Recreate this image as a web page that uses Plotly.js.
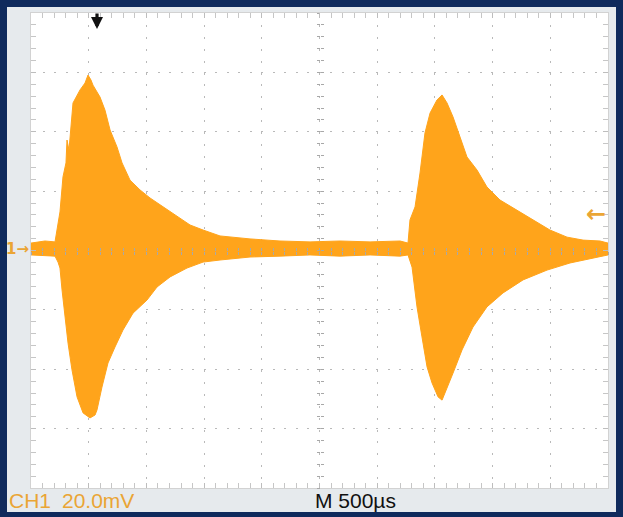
<!DOCTYPE html>
<html>
<head>
<meta charset="utf-8">
<script src="https://cdn.plot.ly/plotly-3.0.1.min.js"></script>
<style>
  html, body { margin: 0; padding: 0; background: #0f2a5c; width: 623px; height: 517px; overflow: hidden; }
  #chart { position: absolute; left: 0; top: 0; width: 623px; height: 517px; }
</style>
</head>
<body>
<div id="chart"></div>
<script>
// Oscilloscope trace envelope (time in µs, voltage in mV)
const upperTime = [0,121,208,234,251,277,303,312,329,364,399,425,468,494,520,537,572,598,641,685,745,789,858,945,1031,1144,1265,1378,1491,1638,1898,2158,2418,2678,2938,3198,3267,3284,3328,3371,3414,3458,3518,3562,3605,3657,3718,3778,3865,3951,4064,4211,4350,4497,4645,4784,4931,5000];
const upperVolt = [2.5,3.2,2.9,9.6,13.0,24.8,29.5,37.2,33.8,49.7,52.4,54.1,56.4,59.1,57.4,55.7,53.4,51.7,47.3,40.6,34.9,29.5,23.7,20.4,17.7,14.7,11.3,8.6,6.9,4.9,3.9,3.2,2.9,3.2,2.9,3.2,2.5,10.3,14.7,26.1,39.6,46.3,50.7,52.4,49.7,45.0,38.2,31.5,27.1,21.4,17.0,13.6,10.3,6.9,4.5,3.5,3.2,2.5];
const lowerTime = [0,208,234,251,269,295,321,355,399,451,511,555,572,615,667,728,797,884,1005,1092,1205,1352,1491,1638,1898,2158,2418,2678,2938,3198,3267,3302,3345,3388,3432,3475,3527,3562,3588,3657,3735,3830,3951,4090,4264,4472,4671,4905,5000];
const lowerVolt = [-1.5,-1.9,-3.9,-5.9,-13.3,-23.4,-31.2,-40.2,-49.3,-54.7,-56.4,-55.4,-53.7,-46.0,-37.9,-32.5,-26.8,-21.1,-16.7,-12.3,-8.9,-5.9,-3.9,-3.2,-2.2,-1.9,-1.5,-1.9,-1.5,-1.9,-1.5,-5.6,-19.0,-29.1,-39.2,-44.6,-49.3,-50.4,-48.0,-41.3,-33.5,-25.8,-19.0,-14.3,-9.9,-6.6,-4.2,-2.2,-1.5];

const timeRange = [0, 5000];   // 10 div x 500 µs
const voltRange = [-80, 80];   // 8 div x 20 mV
const triggerTime = 572;
const triggerLevel = 12.3;
const channelLabel = "CH1";
const scaleLabel = "20.0mV";
const timebaseLabel = "M 500µs";

const traceColor = '#ffa41b';
const labelColor = '#eaa535';
const gridColor = '#b9b9b9';
const textFont = 'Liberation Sans, Arial, sans-serif';

const data = [
  {x: lowerTime, y: lowerVolt, mode: 'lines', line: {color: traceColor, width: 1}, hoverinfo: 'skip', showlegend: false},
  {x: upperTime, y: upperVolt, mode: 'lines', fill: 'tonexty', fillcolor: traceColor, line: {color: traceColor, width: 1}, hoverinfo: 'skip', showlegend: false},
  {x: [null], y: [null], xaxis: 'x2', yaxis: 'y', showlegend: false, hoverinfo: 'skip'},
  {x: [null], y: [null], xaxis: 'x3', yaxis: 'y', showlegend: false, hoverinfo: 'skip'},
  {x: [null], y: [null], xaxis: 'x', yaxis: 'y2', showlegend: false, hoverinfo: 'skip'},
  {x: [null], y: [null], xaxis: 'x', yaxis: 'y3', showlegend: false, hoverinfo: 'skip'}
];

const centerAxis = (range, dtick, ticks, over) => ({
  range: range, overlaying: over, anchor: 'free', position: 0.5,
  showgrid: false, zeroline: false, showline: false, showticklabels: false,
  ticks: ticks, ticklen: 3, tickcolor: '#a8a8a8', tickwidth: 1, dtick: dtick, tick0: 0,
  fixedrange: true
});

// plot area: page x 31..608, y 13..488 ; light panel page x 7..616, y 7..512
const layout = {
  width: 623, height: 517,
  margin: {l: 31, r: 15, t: 13, b: 29, pad: 0},
  paper_bgcolor: '#0f2a5c',
  plot_bgcolor: '#ffffff',
  showlegend: false,
  shapes: [
    {type: 'rect', xref: 'paper', yref: 'paper', x0: -24/577, x1: 585/577, y0: -24/475, y1: 481/475,
     fillcolor: '#e6eaed', line: {width: 0}, layer: 'below'},
    {type: 'rect', xref: 'paper', yref: 'paper', x0: 0, x1: 1, y0: 0, y1: 1,
     fillcolor: '#ffffff', line: {width: 0}, layer: 'below'}
  ],
  xaxis: {
    range: timeRange, dtick: 500, tick0: 0,
    showgrid: true, gridcolor: gridColor, gridwidth: 1, griddash: '2px,9.9px',
    zeroline: false, showticklabels: false,
    showline: true, linecolor: '#d2d2d2', linewidth: 1, mirror: 'allticks',
    ticks: 'inside', ticklen: 5, tickcolor: '#bdbdbd',
    minor: {dtick: 100, tick0: 0, ticks: 'inside', ticklen: 4, tickcolor: '#c6c6c6', showgrid: false},
    fixedrange: true
  },
  yaxis: {
    range: voltRange, dtick: 20, tick0: 0,
    showgrid: true, gridcolor: gridColor, gridwidth: 1, griddash: '2px,9.5px',
    zeroline: false, showticklabels: false,
    showline: true, linecolor: '#d2d2d2', linewidth: 1, mirror: 'allticks',
    ticks: 'inside', ticklen: 5, tickcolor: '#bdbdbd',
    minor: {dtick: 4, tick0: 0, ticks: 'inside', ticklen: 4, tickcolor: '#c6c6c6', showgrid: false},
    fixedrange: true
  },
  xaxis2: centerAxis(timeRange, 100, 'outside', 'x'),
  xaxis3: centerAxis(timeRange, 100, 'inside', 'x'),
  yaxis2: centerAxis(voltRange, 4, 'outside', 'y'),
  yaxis3: centerAxis(voltRange, 4, 'inside', 'y'),
  annotations: [
    {xref: 'paper', yref: 'paper', x: -24/577, y: -12/475, xanchor: 'left', yanchor: 'middle',
     text: channelLabel, showarrow: false,
     font: {family: textFont, size: 21, color: labelColor}},
    {xref: 'paper', yref: 'paper', x: 29/577, y: -12/475, xanchor: 'left', yanchor: 'middle',
     text: scaleLabel, showarrow: false,
     font: {family: textFont, size: 21, color: labelColor}},
    {xref: 'paper', yref: 'paper', x: 282/577, y: -12/475, xanchor: 'left', yanchor: 'middle',
     text: timebaseLabel, showarrow: false,
     font: {family: textFont, size: 21, color: '#111111'}},
    {xref: 'paper', yref: 'y', x: 0, y: 0.5, xanchor: 'right', yanchor: 'middle',
     text: '<b>1→</b>', showarrow: false,
     font: {family: 'DejaVu Sans, sans-serif', size: 15, color: labelColor}},
    {xref: 'paper', yref: 'y', x: 1, y: triggerLevel, xanchor: 'right', yanchor: 'middle',
     text: '<b>←</b>', showarrow: false,
     font: {family: 'DejaVu Sans, sans-serif', size: 24, color: labelColor}},
    {xref: 'x', yref: 'paper', x: triggerTime, y: 459/475, ax: 0, ay: -17,
     text: '', showarrow: true, arrowhead: 2, arrowsize: 0.75, arrowwidth: 3.2, arrowcolor: '#111111'}
  ]
};

Plotly.newPlot('chart', data, layout, {displayModeBar: false, staticPlot: true});
</script>
</body>
</html>
